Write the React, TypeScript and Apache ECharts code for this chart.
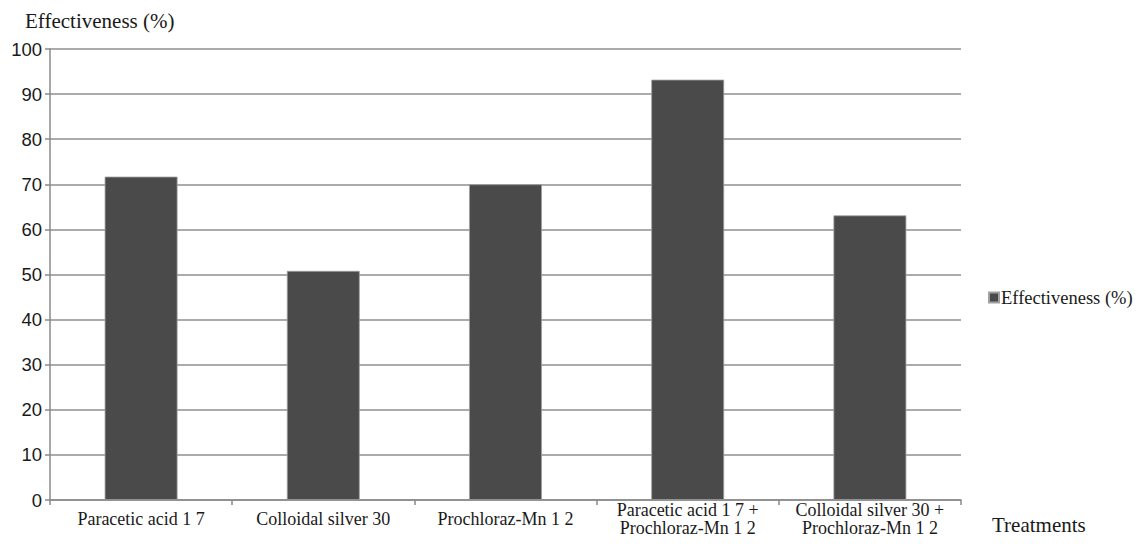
import React, { useEffect, useRef } from "react";
import * as echarts from "echarts";

const categories = [
  "Paracetic acid 1 7",
  "Colloidal silver 30",
  "Prochloraz-Mn 1 2",
  "Paracetic acid 1 7 +\nProchloraz-Mn 1 2",
  "Colloidal silver 30 +\nProchloraz-Mn 1 2",
];
const effectiveness = [71.7, 50.8, 70.0, 93.2, 63.1];
const seriesName = "Effectiveness (%)";
const yAxisTitle = "Effectiveness (%)";
const xAxisTitle = "Treatments";

const SERIF = "'Liberation Serif', 'Times New Roman', Times, serif";
const SANS = "'Liberation Sans', Arial, Helvetica, sans-serif";

export default function App() {
  const ref = useRef<HTMLDivElement>(null);
  useEffect(() => {
    if (!ref.current) return;
    const chart = echarts.init(ref.current, null, { renderer: "svg" });
    chart.setOption({
      animation: false,
      backgroundColor: "#ffffff",
      grid: { left: 50, right: 186, top: 49, bottom: 49, containLabel: false },
      legend: {
        data: [seriesName],
        left: 988,
        top: 288,
        icon: "rect",
        itemWidth: 10,
        itemHeight: 10,
        itemGap: 2,
        padding: [0, 0, 0, 0],
        textStyle: { fontFamily: SERIF, fontSize: 18.5, color: "#1a1a1a", padding: [0, 0, 0, -3] },
      },
      graphic: [
        {
          type: "text",
          left: 25,
          top: 10,
          style: { text: yAxisTitle, font: "21px " + SERIF, fill: "#1a1a1a" },
        },
        {
          type: "text",
          left: 992,
          top: 514,
          style: { text: xAxisTitle, font: "21px " + SERIF, fill: "#1a1a1a" },
        },
      ],
      xAxis: {
        type: "category",
        data: categories,
        axisLine: { lineStyle: { color: "#8a8a8a", width: 1.5 } },
        axisTick: { show: true, length: 5, lineStyle: { color: "#8a8a8a", width: 1.5 } },
        axisLabel: {
          fontFamily: SERIF,
          fontSize: 18,
          color: "#1a1a1a",
          margin: 19,
          lineHeight: 18,
          verticalAlign: "middle",
          interval: 0,
        },
      },
      yAxis: {
        type: "value",
        min: 0,
        max: 100,
        interval: 10,
        axisLine: { show: true, lineStyle: { color: "#8a8a8a", width: 1.5 } },
        axisTick: { show: true, length: 5, lineStyle: { color: "#8a8a8a", width: 1.5 } },
        splitLine: { lineStyle: { color: "#8f8f8f", width: 1.5 } },
        axisLabel: {
          fontFamily: SANS,
          fontSize: 18.5,
          color: "#1a1a1a",
          margin: 8,
        },
      },
      series: [
        {
          name: seriesName,
          type: "bar",
          data: effectiveness,
          barWidth: "40%",
          itemStyle: { color: "#4a4a4a", borderColor: "#a0a0a0", borderWidth: 0.8 },
        },
      ],
    });
    return () => chart.dispose();
  }, []);
  return (
    <div
      ref={ref}
      style={{ position: "absolute", left: 0, top: 0, width: 1147, height: 549 }}
    />
  );
}
